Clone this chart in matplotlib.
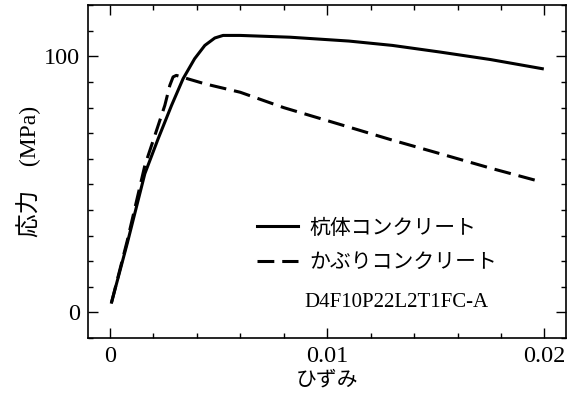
import matplotlib
matplotlib.use("Agg")
import matplotlib.pyplot as plt
from matplotlib.ticker import MultipleLocator

# data
pile_strain = [0.00008, 0.0008, 0.00161, 0.00222, 0.00284, 0.00337, 0.0039, 0.00437,
               0.00483, 0.00521, 0.006, 0.0083, 0.011, 0.013, 0.0152, 0.0175, 0.0199]
pile_stress = [4, 27, 54.2, 67.8, 80.9, 91.3, 99.1, 104.3,
               107.2, 108.2, 108.2, 107.5, 106, 104.3, 101.7, 98.8, 95.2]
cover_strain = [0.00008, 0.0008, 0.00161, 0.00207, 0.00253, 0.00276, 0.00291, 0.00306,
                0.00345, 0.00437, 0.006, 0.008, 0.011, 0.013, 0.0152, 0.0175, 0.0199]
cover_stress = [4, 28, 57.4, 69.1, 80.9, 88.7, 92, 92.6,
                91.6, 89.3, 86, 80, 72.4, 67.3, 62, 56.4, 50.9]
labels = ["杭体コンクリート", "かぶりコンクリート"]
xticks = [0, 0.01, 0.02]
xticklabels = ["0", "0.01", "0.02"]
yticks = [0, 100]
specimen = "D4F10P22L2T1FC-A"

serif = ["Liberation Serif", "Noto Sans CJK JP"]
jp = ["Noto Sans CJK JP", "Liberation Serif"]

fig = plt.figure(figsize=(5.76, 4.01), dpi=100)
ax = fig.add_axes([0.153, 0.157, 0.830, 0.830])

lw = 2.2
ax.plot(pile_strain, pile_stress, color="black", lw=lw, label=labels[0],
        solid_joinstyle="round")
ax.plot(cover_strain, cover_stress, color="black", lw=lw, dashes=(5.5, 2.6),
        label=labels[1])

ax.set_xlim(-0.001, 0.021)
ax.set_ylim(-10, 120)
ax.set_xticks(xticks)
ax.set_xticklabels(xticklabels, fontfamily=serif, fontsize=17.5)
ax.set_yticks(yticks)
ax.set_yticklabels([str(v) for v in yticks], fontfamily=serif, fontsize=17.5)
ax.xaxis.set_minor_locator(MultipleLocator(0.002))
ax.yaxis.set_minor_locator(MultipleLocator(10))
ax.tick_params(which="both", direction="in", top=True, right=True, width=1.0, color="black")
ax.tick_params(which="major", length=7, pad=6)
ax.tick_params(which="minor", length=3.5)
for s in ax.spines.values():
    s.set_linewidth(1.2)

ax.set_xlabel("ひずみ", fontfamily=jp, fontsize=15, labelpad=1)
ax.set_ylabel("応力\u3000(MPa)", fontfamily=serif, fontsize=17, labelpad=2)

leg = ax.legend(loc="upper left", bbox_to_anchor=(0.335, 0.39), frameon=False,
                handlelength=2.0, handletextpad=0.55, labelspacing=0.6,
                prop={"family": jp, "size": 15}, borderaxespad=0)

ax.text(0.644, 0.108, specimen, transform=ax.transAxes, ha="center", va="center",
        fontfamily=serif, fontsize=15)

fig.savefig("out.png", dpi=100)
